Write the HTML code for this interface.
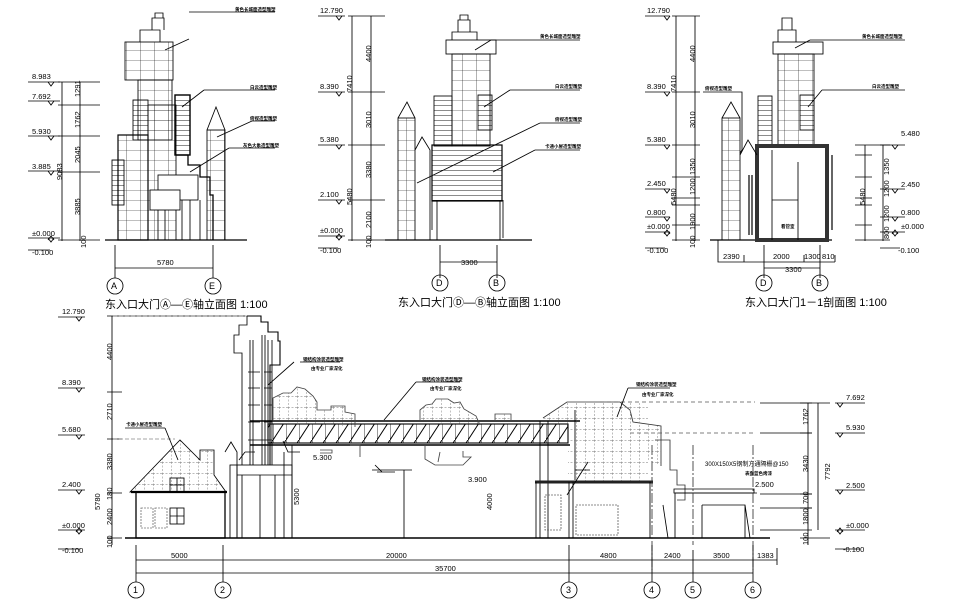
<!DOCTYPE html>
<html><head><meta charset="utf-8"><style>
html,body{margin:0;padding:0;background:#fff;}
svg{display:block;}
text{font-family:"Liberation Sans","Noto Sans CJK SC",sans-serif;fill:#000;}
.t{font-size:7.5px;}
.s{font-size:4.5px;font-weight:bold;}
.ti{font-size:11px;}
.ax{font-size:9px;}
</style></head><body>
<svg width="960" height="600" viewBox="0 0 960 600" xmlns="http://www.w3.org/2000/svg">
<defs>
<pattern id="tr" width="13" height="20" patternUnits="userSpaceOnUse"><line x1="0" y1="20" x2="13" y2="0" stroke="#000" stroke-width="1"/><line x1="0" y1="0" x2="0" y2="20" stroke="#000" stroke-width="0.8"/></pattern>
<pattern id="gr" width="9" height="11" patternUnits="userSpaceOnUse"><path d="M0 0H9M0 0V11" stroke="#777" stroke-width="0.9" stroke-dasharray="2,1.5" fill="none"/></pattern>
<pattern id="bl" width="14" height="10" patternUnits="userSpaceOnUse"><path d="M0 0H14M0 0V10" stroke="#000" stroke-width="0.6" fill="none"/></pattern>
<pattern id="hz" width="10" height="5" patternUnits="userSpaceOnUse"><path d="M0 0H10" stroke="#000" stroke-width="0.9"/></pattern>
</defs>
<g fill="none" stroke="#000" stroke-width="0.85">

<!-- ============ PANEL 1 ============ -->
<g>
<path d="M28 82H60M28 101H60M28 136H60M28 171H60M28 238H60M28 250H50"/>
<path d="M48 82l3 4 3-4M48 101l3 4 3-4M48 136l3 4 3-4M48 171l3 4 3-4M48 238l3 4 3-4M48 240l3-4 3 4"/>
<path d="M62 82V241M80 82V241M58 82H100M58 105H100M58 136H100M58 172H100M58 240H100"/>
<path d="M105 240H247" stroke-width="1.2"/>
<rect x="125" y="42" width="48" height="38" fill="url(#bl)"/>
<path d="M140 42V30h20V42M152 30V18h12v12M155 18v-5h8v5"/>
<rect x="138" y="80" width="34" height="60" fill="url(#bl)"/>
<rect x="133" y="100" width="15" height="40" fill="url(#hz)"/>
<rect x="118" y="135" width="30" height="105" fill="url(#bl)" stroke-width="1.2"/>
<rect x="112" y="160" width="12" height="45" fill="url(#hz)"/>
<rect x="148" y="105" width="28" height="135" fill="url(#bl)"/>
<rect x="175" y="95" width="15" height="60" fill="url(#hz)" stroke-width="1.4"/>
<path d="M176 155h12v10h12v12h10v18h3v45" stroke-width="1.3"/>
<rect x="158" y="175" width="40" height="25" fill="#fff"/>
<rect x="150" y="190" width="30" height="20" fill="#fff"/>
<path d="M182 200V240M190 200V240M200 200V240M158 210V240M165 210V240"/>
<rect x="207" y="130" width="18" height="110" fill="url(#bl)"/>
<path d="M207 130L216 107L225 130"/>
<path d="M115 245V278M213 245V278M115 268H213"/>
<circle cx="115" cy="286" r="8"/><circle cx="213" cy="286" r="8"/>
<path d="M189 12H275M165 50L189 39M204 90H275M182 107L204 90M252 121H275M217 137L252 121M229 148H275M190 172L229 148"/>
</g>

<!-- ============ PANEL 2 ============ -->
<g>
<path d="M318 16H345M318 92H345M318 145H345M318 200H345M318 236H345M318 248H338"/>
<path d="M336 16l3 4 3-4M336 92l3 4 3-4M336 145l3 4 3-4M336 200l3 4 3-4M336 236l3 4 3-4M336 238l3-4 3 4"/>
<path d="M352 16V241M371 16V241M348 16H385M348 92H385M348 145H385M348 200H385M348 240H385"/>
<path d="M385 240H532" stroke-width="1.2"/>
<rect x="446" y="40" width="50" height="14"/>
<path d="M452 40V32h25v8M458 32V20h12v12M460 20V15h8v5"/>
<rect x="452" y="54" width="38" height="92" fill="url(#bl)"/>
<rect x="434" y="96" width="18" height="50" fill="url(#hz)"/>
<rect x="478" y="95" width="14" height="35" fill="url(#hz)"/>
<rect x="432" y="145" width="70" height="56" fill="url(#hz)" stroke-width="1.2"/>
<path d="M437 201V240M500 201V240M432 201V230M503 200V238"/>
<rect x="398" y="118" width="17" height="122" fill="url(#bl)"/>
<path d="M398 118L407 102L415 118M415 150L422 137L430 150V240"/>
<path d="M440 245V278M497 245V278M440 262H497"/>
<circle cx="440" cy="283" r="8"/><circle cx="497" cy="283" r="8"/>
<path d="M491 40H580M475 50L491 40M510 90H580M484 107L510 90M540 123H580M417 183L540 123M535 150H580M493 172L535 150"/>
</g>

<!-- ============ PANEL 3 ============ -->
<g>
<path d="M645 16H670M645 92H670M645 145H670M645 189H670M645 217H670M645 232H670M645 248H665"/>
<path d="M664 16l3 4 3-4M664 92l3 4 3-4M664 145l3 4 3-4M664 189l3 4 3-4M664 217l3 4 3-4M664 232l3 4 3-4M664 234l3-4 3 4"/>
<path d="M676 16V241M695 16V241M672 16H700M672 92H700M672 145H700M672 177H700M672 198H700M672 205H700M672 225H700M672 240H700"/>
<path d="M710 240H832" stroke-width="1.2"/>
<rect x="773" y="42" width="50" height="12"/>
<path d="M778 42V30h18v12M782 30V18h10v12"/>
<rect x="778" y="54" width="36" height="92" fill="url(#bl)"/>
<rect x="758" y="96" width="14" height="50" fill="url(#hz)"/>
<rect x="800" y="95" width="14" height="35" fill="url(#hz)"/>
<rect x="757" y="146" width="70" height="94" stroke="#333" stroke-width="4"/>
<path d="M772 150V240M798 162V240M772 200H798"/>
<path d="M752 175V235M832 155V230M749 175V235" stroke-width="1.2"/>
<rect x="722" y="118" width="18" height="122" fill="url(#bl)"/>
<path d="M722 118L731 102L740 118M740 155L748 140L757 155"/>
<path d="M718 240V262H835M764 245V278M820 245V278M764 268H820M744 255V262M804 255V262M835 255V262"/>
<circle cx="764" cy="283" r="8"/><circle cx="820" cy="283" r="8"/>
<path d="M810 40H905M795 48L810 40M822 90H905M808 107L822 90M703 92H742V150M742 150L740 153"/>
<path d="M880 145H905M880 189H905M880 217H905M880 232H905M880 248H900M892 145l3 4 3-4M892 189l3 4 3-4M892 217l3 4 3-4M892 232l3 4 3-4M892 234l3-4 3 4"/>
<path d="M865 145V241M883 145V241M855 145H890M855 155H872M855 177H872M855 198H872M855 205H872M855 225H872M855 240H890"/>
</g>

<!-- ============ BOTTOM ELEVATION ============ -->
<g>
<path d="M58 317H85M58 388H85M58 435H85M58 490H85M58 530H85M58 549H80"/>
<path d="M76 317l3 4 3-4M76 388l3 4 3-4M76 435l3 4 3-4M76 490l3 4 3-4M76 530l3 4 3-4M76 532l3-4 3 4"/>
<path d="M112 316V545M107 316H245M107 392H122M107 439H122M107 493H122M107 538H122" />
<path d="M113 316H248M113 439H175" stroke="#888" stroke-dasharray="4,2"/>
<path d="M125 538H770" stroke-width="1.5"/>
<rect x="136" y="492" width="89" height="46" stroke-width="1.3"/>
<path d="M130 492L180 440L200 460V450h14v25l12 17z" fill="url(#gr)"/>
<path d="M131 492H227" stroke-width="2.2"/>
<rect x="170" y="478" width="14" height="14"/><path d="M177 478V492M170 485H184"/>
<rect x="141" y="508" width="12" height="20" stroke="#777" stroke-dasharray="2,1"/>
<rect x="155" y="508" width="12" height="20" stroke="#777" stroke-dasharray="2,1"/>
<rect x="170" y="508" width="14" height="16"/><path d="M177 508V524M170 516H184"/>
<path d="M225 452l6-10 6 10v85"/>
<path d="M247 316h14v6h7v10h10v9h2v24h-10v100" stroke-width="1.1"/>
<path d="M247 316v9h-8v10h-5v18h8v112"/>
<path d="M250 340V465M253 340V465M262 335V465M265 335V465M268 340V465M272 340V465"/>
<path d="M248 372h12M248 388h12M248 405h12M248 422h12M264 372h8M264 388h8M264 405h8M264 422h8M248 440h24"/>
<rect x="230" y="465" width="62" height="73"/>
<path d="M237 465V538M242 475V538M260 475V538M275 475V538M237 475H292"/>
<path d="M292 445V538"/>
<rect x="268" y="424" width="300" height="19" fill="url(#tr)" stroke-width="1.1"/>
<path d="M250 421H580M250 445H570" stroke-width="1.5"/>
<path d="M540 421V538M548 421V538M575 410V480"/>
<path d="M273 421V398l10-5 8 0 6-6 8 2 8 7 4 6v8h14v-4h14v6l10 2v13" fill="url(#gr)" stroke="#444"/>
<path d="M420 421V410l6-5 6-1 4-5 12 0 6 4 6-1 4 7 12 7 4 9M495 421V414h16v7" fill="url(#gr)" stroke="#444"/>
<path d="M425 445v14l10 6h16l12 0 8-8h-8v-6M440 452l-2 10" stroke="#444"/>
<path d="M320 450h12v3h-12M350 445h10v12" stroke="#444"/>
<path d="M543 418L567 402H620l10 8 3 12 28 4v40" fill="url(#gr)" stroke="#333"/>
<path d="M600 402H755M630 433H755" stroke="#555" stroke-dasharray="4,3"/>
<rect x="568" y="402" width="80" height="80" fill="url(#gr)" stroke="none"/>
<path d="M655 440h15v30h7v15h8v15h-8" stroke="#333"/>
<path d="M535 482H653" stroke-width="3" stroke="#222"/>
<path d="M536 482V538M569 482V538M573 482V538M650 482V538"/>
<rect x="545" y="495" width="16" height="35" stroke="#666" stroke-dasharray="2,1"/>
<rect x="576" y="505" width="42" height="30" stroke="#666" stroke-dasharray="2,1"/>
<path d="M675 493H757M675 493V538M702 505H745V538M702 505V538M745 505L750 538M663 505L668 538"/>
<path d="M674 493h80v-4h-80z"/>
<path d="M693 445V545M753 445V570M652 445V570" stroke="#333" stroke-dasharray="10,2,2,2"/>
<path d="M760 403H812M760 433H812M760 494H812M760 508H812M760 530H812"/>
<path d="M808 403V545M818 403V530M800 403H830M800 433H812M800 494H812M800 508H812M800 538H830"/>
<path d="M835 403H865M835 433H865M835 490H865M835 530H865M835 549H860"/>
<path d="M837 403l3 4 3-4M837 433l3 4 3-4M837 490l3 4 3-4M837 530l3 4 3-4M837 532l3-4 3 4"/>
<path d="M136 545V582M223 545V582M569 545V582M652 545V582M693 550V582M753 545V582M777 548V565"/>
<path d="M136 560H777M136 573H753"/>
<circle cx="136" cy="590" r="8"/><circle cx="223" cy="590" r="8"/><circle cx="569" cy="590" r="8"/><circle cx="652" cy="590" r="8"/><circle cx="693" cy="590" r="8"/><circle cx="753" cy="590" r="8"/>
<path d="M300 362H340M294 362L268 385M416 382H460M416 382L384 420M628 388H670M628 388L617 417M125 428H165M165 428L178 460M575 470H590M588 462L567 495"/>
<path d="M245 452H255M239 460L245 452M377 472H395M382 472L375 465M372 470H412M404 470V538M283 441L288 452H300M284 452V538"/>
</g>
</g>

<g stroke="none">
<text class="t" x="32" y="79">8.983</text><text class="t" x="32" y="99">7.692</text><text class="t" x="32" y="134">5.930</text><text class="t" x="32" y="169">3.885</text><text class="t" x="32" y="236">±0.000</text><text class="t" x="32" y="255">-0.100</text>
<g class="t"><text transform="translate(80,97) rotate(-90)">1291</text><text transform="translate(80,128) rotate(-90)">1762</text><text transform="translate(80,163) rotate(-90)">2045</text><text transform="translate(62,180) rotate(-90)">9083</text><text transform="translate(80,215) rotate(-90)">3885</text><text transform="translate(86,248) rotate(-90)">100</text></g>
<text class="t" x="157" y="265">5780</text>
<text class="ax" x="111" y="289">A</text><text class="ax" x="209" y="289">E</text>
<text class="s" x="235" y="11">黄色长城面造型雕塑</text><text class="s" x="250" y="89">白云造型雕塑</text><text class="s" x="250" y="120">俯视造型雕塑</text><text class="s" x="243" y="147">灰色大象造型雕塑</text>
<text class="ti" x="105" y="308">东入口大门Ⓐ—Ⓔ轴立面图 1:100</text>
<text class="t" x="320" y="13">12.790</text><text class="t" x="320" y="89">8.390</text><text class="t" x="320" y="142">5.380</text><text class="t" x="320" y="197">2.100</text><text class="t" x="320" y="233">±0.000</text><text class="t" x="320" y="253">-0.100</text>
<g class="t"><text transform="translate(371,62) rotate(-90)">4400</text><text transform="translate(352,92) rotate(-90)">7410</text><text transform="translate(371,128) rotate(-90)">3010</text><text transform="translate(371,178) rotate(-90)">3380</text><text transform="translate(352,205) rotate(-90)">5480</text><text transform="translate(371,228) rotate(-90)">2100</text><text transform="translate(371,248) rotate(-90)">100</text></g>
<text class="t" x="461" y="265">3300</text>
<text class="ax" x="436" y="286">D</text><text class="ax" x="493" y="286">B</text>
<text class="s" x="540" y="38">黄色长城面造型雕塑</text><text class="s" x="555" y="88">白云造型雕塑</text><text class="s" x="555" y="121">俯视造型雕塑</text><text class="s" x="545" y="148">卡通小屋造型雕塑</text>
<text class="ti" x="398" y="306">东入口大门Ⓓ—Ⓑ轴立面图 1:100</text>
<text class="t" x="647" y="13">12.790</text><text class="t" x="647" y="89">8.390</text><text class="t" x="647" y="142">5.380</text><text class="t" x="647" y="186">2.450</text><text class="t" x="647" y="215">0.800</text><text class="t" x="647" y="229">±0.000</text><text class="t" x="647" y="253">-0.100</text>
<g class="t"><text transform="translate(695,62) rotate(-90)">4400</text><text transform="translate(676,92) rotate(-90)">7410</text><text transform="translate(695,128) rotate(-90)">3010</text><text transform="translate(695,175) rotate(-90)">1350</text><text transform="translate(676,205) rotate(-90)">5480</text><text transform="translate(695,195) rotate(-90)">1200</text><text transform="translate(695,230) rotate(-90)">1900</text><text transform="translate(695,248) rotate(-90)">100</text>
<text transform="translate(889,175) rotate(-90)">1350</text><text transform="translate(889,197) rotate(-90)">1200</text><text transform="translate(865,205) rotate(-90)">5480</text><text transform="translate(889,222) rotate(-90)">1200</text><text transform="translate(889,239) rotate(-90)">800</text></g>
<text class="t" x="901" y="136">5.480</text><text class="t" x="901" y="187">2.450</text><text class="t" x="901" y="215">0.800</text><text class="t" x="901" y="229">±0.000</text><text class="t" x="898" y="253">-0.100</text>
<text class="t" x="723" y="259">2390</text><text class="t" x="773" y="259">2000</text><text class="t" x="804" y="259">1300</text><text class="t" x="822" y="259">810</text><text class="t" x="785" y="272">3300</text>
<text class="ax" x="760" y="286">D</text><text class="ax" x="816" y="286">B</text>
<text class="s" x="862" y="38">黄色长城面造型雕塑</text><text class="s" x="872" y="88">白云造型雕塑</text><text class="s" x="705" y="90">俯视造型雕塑</text><text class="s" x="781" y="228">看管室</text>
<text class="ti" x="745" y="306">东入口大门1－1剖面图 1:100</text>
<text class="t" x="62" y="314">12.790</text><text class="t" x="62" y="385">8.390</text><text class="t" x="62" y="432">5.680</text><text class="t" x="62" y="487">2.400</text><text class="t" x="62" y="528">±0.000</text><text class="t" x="62" y="553">-0.100</text>
<g class="t"><text transform="translate(112,360) rotate(-90)">4400</text><text transform="translate(112,420) rotate(-90)">2710</text><text transform="translate(112,470) rotate(-90)">3380</text><text transform="translate(112,500) rotate(-90)">180</text><text transform="translate(112,525) rotate(-90)">2400</text><text transform="translate(112,548) rotate(-90)">100</text><text transform="translate(100,510) rotate(-90)">5780</text>
<text transform="translate(299,505) rotate(-90)">5300</text><text transform="translate(492,510) rotate(-90)">4000</text>
<text transform="translate(808,425) rotate(-90)">1762</text><text transform="translate(808,472) rotate(-90)">3430</text><text transform="translate(830,480) rotate(-90)">7792</text><text transform="translate(808,504) rotate(-90)">700</text><text transform="translate(808,525) rotate(-90)">1800</text><text transform="translate(808,545) rotate(-90)">100</text></g>
<text class="t" x="313" y="460">5.300</text><text class="t" x="468" y="482">3.900</text><text class="t" x="755" y="487">2.500</text>
<text class="t" x="846" y="400">7.692</text><text class="t" x="846" y="430">5.930</text><text class="t" x="846" y="488">2.500</text><text class="t" x="846" y="528">±0.000</text><text class="t" x="843" y="552">-0.100</text>
<text class="t" x="171" y="558">5000</text><text class="t" x="386" y="558">20000</text><text class="t" x="600" y="558">4800</text><text class="t" x="664" y="558">2400</text><text class="t" x="713" y="558">3500</text><text class="t" x="757" y="558">1383</text><text class="t" x="435" y="571">35700</text>
<text class="ax" x="133" y="593">1</text><text class="ax" x="220" y="593">2</text><text class="ax" x="566" y="593">3</text><text class="ax" x="649" y="593">4</text><text class="ax" x="690" y="593">5</text><text class="ax" x="750" y="593">6</text>
<text class="s" x="303" y="361">钢结构涂装造型雕塑</text><text class="s" x="311" y="370">由专业厂家深化</text>
<text class="s" x="422" y="381">钢结构涂装造型雕塑</text><text class="s" x="430" y="390">由专业厂家深化</text>
<text class="s" x="636" y="386">钢结构涂装造型雕塑</text><text class="s" x="642" y="396">由专业厂家深化</text>
<text class="s" x="126" y="426">卡通小屋造型雕塑</text>
<text class="t" x="705" y="466" style="font-size:6px">300X150X5钢制方通隔栅@150</text><text class="s" x="745" y="475">表面蓝色烤漆</text>
</g>
</svg>
</body></html>
